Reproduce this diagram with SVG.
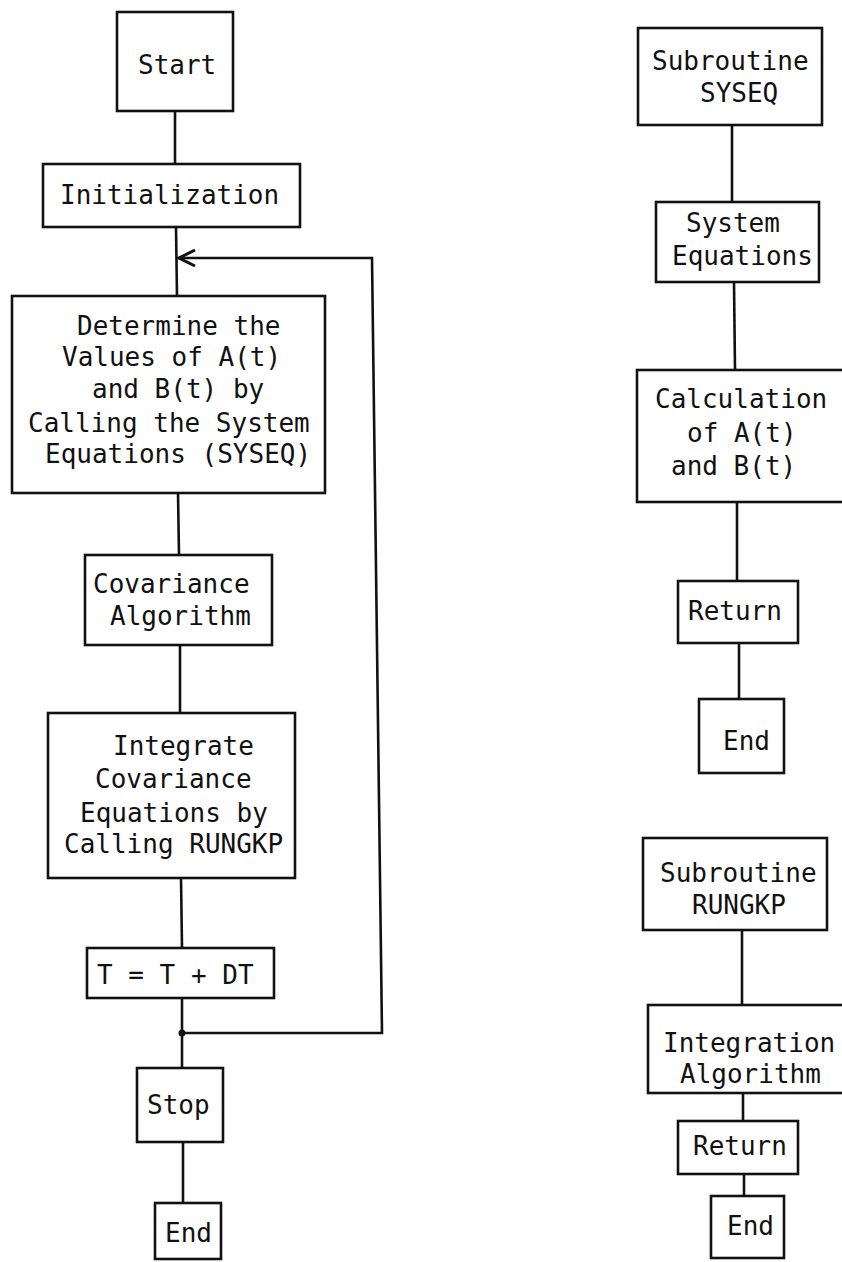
<svg xmlns="http://www.w3.org/2000/svg" width="842" height="1262" viewBox="0 0 842 1262">
<style>
.box{fill:#fff;stroke:#111;stroke-width:2.6}
.ln{fill:none;stroke:#111;stroke-width:2.6}
text{font-family:"DejaVu Sans Mono","Liberation Mono",monospace;font-size:26px;fill:#111}
</style>
<defs>
<marker id="open" viewBox="0 0 20 20" refX="18" refY="10" markerWidth="20" markerHeight="20" markerUnits="userSpaceOnUse" orient="auto">
<path d="M2,2 L18,10 L2,18" fill="none" stroke="#111" stroke-width="3"/>
</marker>
</defs>
<rect width="842" height="1262" fill="#fff"/>
<g id="connectors">
<line class="ln" x1="175" y1="111" x2="175" y2="164"/>
<line class="ln" x1="176" y1="227" x2="177" y2="296"/>
<line class="ln" x1="178" y1="493" x2="179" y2="555"/>
<line class="ln" x1="180" y1="645" x2="180" y2="713"/>
<line class="ln" x1="181" y1="878" x2="182" y2="948"/>
<line class="ln" x1="182" y1="998" x2="182" y2="1068"/>
<line class="ln" x1="183" y1="1142" x2="183" y2="1203"/>
<path class="ln" d="M182,1033 H382 L372,258 H179" marker-end="url(#open)"/>
<circle cx="182" cy="1033" r="3.5" fill="#111"/>
<line class="ln" x1="732" y1="125" x2="732" y2="202"/>
<line class="ln" x1="734" y1="282" x2="735" y2="370"/>
<line class="ln" x1="737" y1="502" x2="737" y2="581"/>
<line class="ln" x1="739" y1="643" x2="739" y2="699"/>
<line class="ln" x1="742" y1="930" x2="742" y2="1005"/>
<line class="ln" x1="743" y1="1093" x2="743" y2="1121"/>
<line class="ln" x1="744" y1="1174" x2="744" y2="1196"/>
</g>
<g id="start"><rect class="box" x="117" y="12" width="116" height="99"/><text x="138" y="74">Start</text></g>
<g id="init"><rect class="box" x="43" y="164" width="257" height="63"/><text x="60" y="204">Initialization</text></g>
<g id="determine"><rect class="box" x="12" y="296" width="313" height="197"/>
<text x="77" y="335">Determine the</text>
<text x="62" y="366">Values of A(t)</text>
<text x="92" y="398">and B(t) by</text>
<text x="28" y="432">Calling the System</text>
<text x="45" y="463">Equations (SYSEQ)</text></g>
<g id="covariance"><rect class="box" x="85" y="555" width="187" height="90"/>
<text x="93" y="593">Covariance</text><text x="110" y="625">Algorithm</text></g>
<g id="integrate"><rect class="box" x="48" y="713" width="247" height="165"/>
<text x="113" y="755">Integrate</text>
<text x="95" y="788">Covariance</text>
<text x="80" y="822">Equations by</text>
<text x="64" y="853">Calling RUNGKP</text></g>
<g id="tstep"><rect class="box" x="87" y="948" width="187" height="50"/><text x="97" y="984">T = T + DT</text></g>
<g id="stop"><rect class="box" x="137" y="1068" width="86" height="74"/><text x="147" y="1114">Stop</text></g>
<g id="end1"><rect class="box" x="155" y="1203" width="66" height="56"/><text x="165" y="1242">End</text></g>
<g id="sub-syseq"><rect class="box" x="638" y="28" width="184" height="97"/>
<text x="652" y="70">Subroutine</text><text x="700" y="102">SYSEQ</text></g>
<g id="syseq-eq"><rect class="box" x="656" y="202" width="163" height="80"/>
<text x="686" y="232">System</text><text x="672" y="265">Equations</text></g>
<g id="calc"><rect class="box" x="637" y="370" width="207" height="132"/>
<text x="655" y="408">Calculation</text><text x="687" y="442">of A(t)</text><text x="671" y="475">and B(t)</text></g>
<g id="return1"><rect class="box" x="678" y="581" width="120" height="62"/><text x="688" y="620">Return</text></g>
<g id="end2"><rect class="box" x="699" y="699" width="85" height="74"/><text x="723" y="750">End</text></g>
<g id="sub-rungkp"><rect class="box" x="643" y="838" width="184" height="92"/>
<text x="660" y="882">Subroutine</text><text x="692" y="914">RUNGKP</text></g>
<g id="integration"><rect class="box" x="648" y="1005" width="196" height="88"/>
<text x="663" y="1052">Integration</text><text x="680" y="1083">Algorithm</text></g>
<g id="return2"><rect class="box" x="678" y="1121" width="120" height="53"/><text x="693" y="1155">Return</text></g>
<g id="end3"><rect class="box" x="711" y="1196" width="73" height="62"/><text x="727" y="1235">End</text></g>
</svg>
